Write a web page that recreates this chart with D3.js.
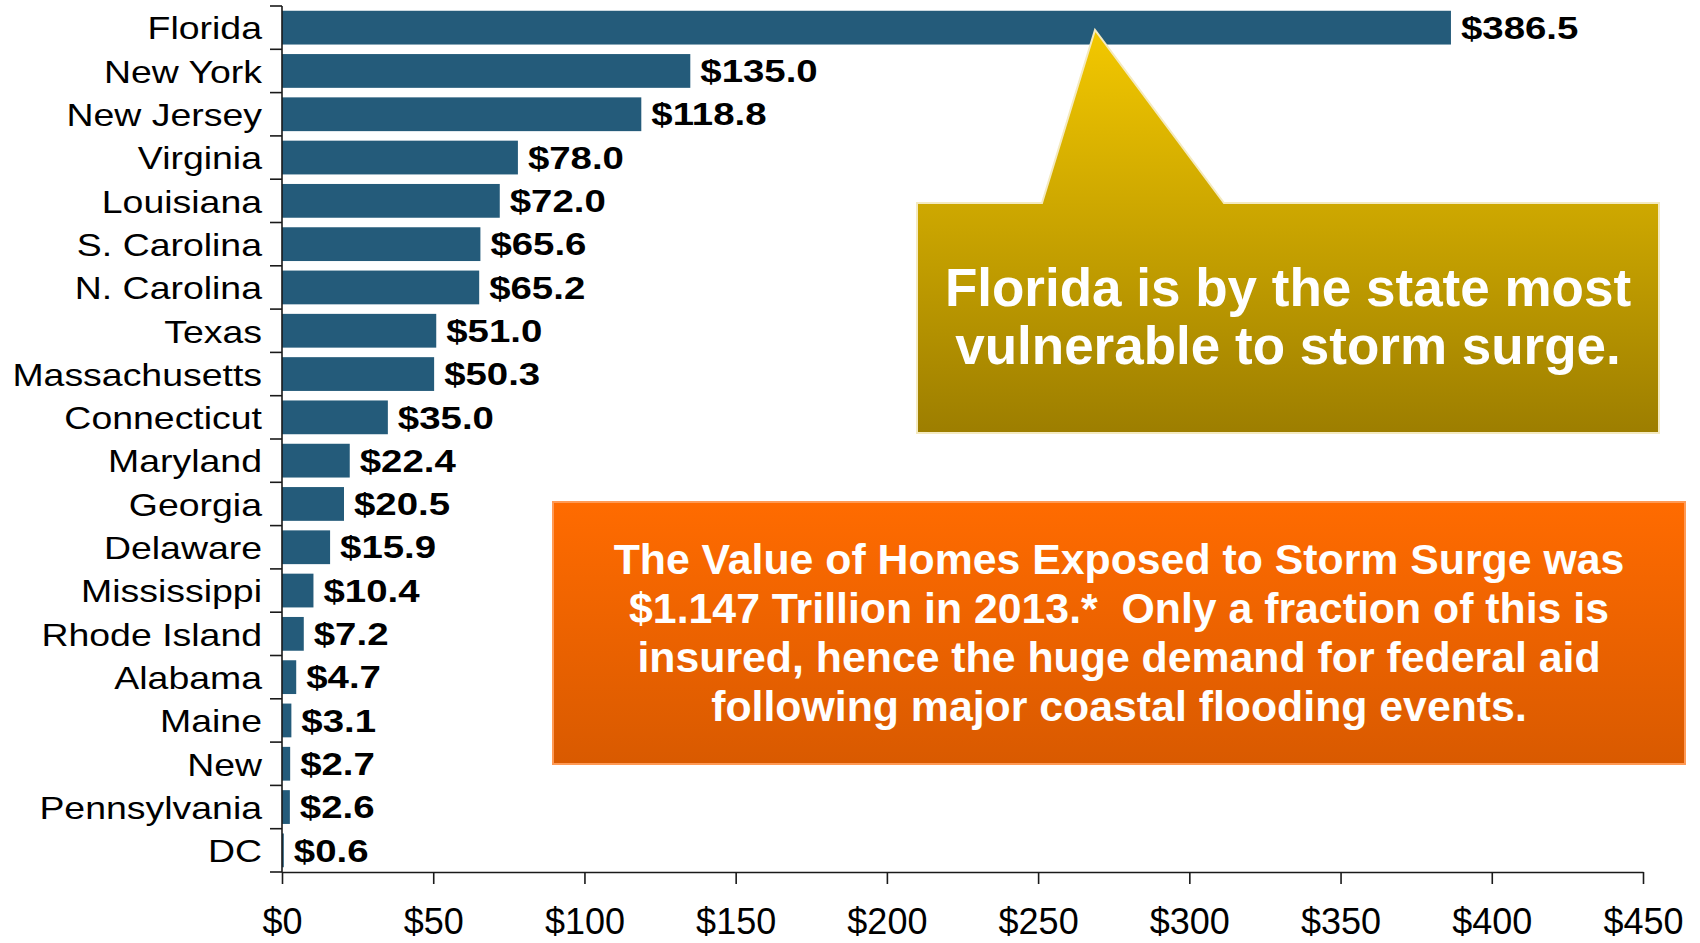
<!DOCTYPE html>
<html>
<head>
<meta charset="utf-8">
<script src="https://cdn.jsdelivr.net/npm/d3@7"></script>
<style>
  body { margin: 0; background: #fff; }
  text { font-family: "Liberation Sans", Arial, sans-serif; }
</style>
</head>
<body>
<div id="container"></div>
<script>

let states = ["Florida", "New York", "New Jersey", "Virginia", "Louisiana", "S. Carolina",
  "N. Carolina", "Texas", "Massachusetts", "Connecticut", "Maryland", "Georgia", "Delaware",
  "Mississippi", "Rhode Island", "Alabama", "Maine", "New", "Pennsylvania", "DC"];
let homeValues = [386.5, 135.0, 118.8, 78.0, 72.0, 65.6, 65.2, 51.0, 50.3, 35.0,
  22.4, 20.5, 15.9, 10.4, 7.2, 4.7, 3.1, 2.7, 2.6, 0.6];
let xTicks = [0, 50, 100, 150, 200, 250, 300, 350, 400, 450];

let goldLines = ["Florida is by the state most", "vulnerable to storm surge."];
let orangeLines = [
  "The Value of Homes Exposed to Storm Surge was",
  "$1.147 Trillion in 2013.*  Only a fraction of this is",
  "insured, hence the huge demand for federal aid",
  "following major coastal flooding events."
];

let data = states.map(function(d, i){
  return {"state": d, "value": homeValues[i]};
});

let w = 1700;
let h = 943;
// the chart text in the original is drawn a bit wider than it is tall
let labelStretch = 1.17;
let valueStretch = 1.2;

let viz = d3.select("#container")
  .append("svg")
    .attr("width", w)
    .attr("height", h)
;

let xScale = d3.scaleLinear().domain([0, 450]).range([282, 1643]);
let yScale = d3.scaleBand()
    .domain(states)
    .range([6, 872])
    .paddingInner(0.22)
    .paddingOuter(0.11)
;

let defs = viz.append("defs");
let gold = defs.append("linearGradient")
    .attr("id", "goldGrad")
    .attr("gradientUnits", "userSpaceOnUse")
    .attr("x1", 0).attr("y1", 30).attr("x2", 0).attr("y2", 433)
;
gold.append("stop").attr("offset", "0%").attr("stop-color", "#f3c800");
gold.append("stop").attr("offset", "100%").attr("stop-color", "#9d7e00");

let orange = defs.append("linearGradient")
    .attr("id", "orangeGrad")
    .attr("x1", 0).attr("y1", 0).attr("x2", 0).attr("y2", 1)
;
orange.append("stop").attr("offset", "0%").attr("stop-color", "#ff6b00");
orange.append("stop").attr("offset", "100%").attr("stop-color", "#d95a00");

// bars
let barGroup = viz.append("g").attr("class", "bars");
barGroup.selectAll("rect").data(data).enter()
  .append("rect")
    .attr("x", xScale(0))
    .attr("y", function(d){ return yScale(d.state) })
    .attr("width", function(d){ return xScale(d.value) - xScale(0) })
    .attr("height", yScale.bandwidth())
    .attr("fill", "#245b7a")
;

// value labels
barGroup.selectAll(".valuelabel").data(data).enter()
  .append("text")
    .attr("class", "valuelabel")
    .attr("transform", "scale(" + valueStretch + ",1)")
    .attr("x", function(d){ return (xScale(d.value) + 10) / valueStretch })
    .attr("y", function(d){ return yScale(d.state) + yScale.bandwidth() / 2 })
    .attr("dy", "0.35em")
    .attr("font-size", "32px")
    .attr("font-weight", "bold")
    .attr("fill", "#000")
    .text(function(d){ return "$" + d3.format(".1f")(d.value) })
;

// y axis: labels from the band scale, tick marks between the bands
let yAxis = d3.axisLeft(yScale).tickSize(0).tickPadding(0);
let yAxisGroup = viz.append("g")
    .attr("class", "yaxisgroup")
    .attr("transform", "translate(" + xScale(0) + ",0)")
;
yAxisGroup.call(yAxis);
yAxisGroup.select(".domain").remove();
yAxisGroup.selectAll("text")
    .attr("transform", "scale(" + labelStretch + ",1)")
    .attr("x", -20 / labelStretch)
    .attr("dy", "0.37em")
    .attr("font-size", "32px")
    .attr("font-family", null)
    .attr("fill", "#000")
;

let step = yScale.step();
let bounds = states.map(function(d){ return yScale(d) - step * yScale.paddingOuter() });
bounds.push(yScale.range()[1]);
let axisLines = viz.append("g").attr("stroke", "#1a1a1a").attr("stroke-width", 1.6);
axisLines.selectAll("line").data(bounds).enter()
  .append("line")
    .attr("x1", xScale(0) - 12)
    .attr("x2", xScale(0))
    .attr("y1", function(d){ return d })
    .attr("y2", function(d){ return d })
;
axisLines.append("line")
    .attr("x1", xScale(0)).attr("x2", xScale(0))
    .attr("y1", yScale.range()[0]).attr("y2", yScale.range()[1])
;

// x axis
let xAxis = d3.axisBottom(xScale)
    .tickValues(xTicks)
    .tickSize(12)
    .tickSizeOuter(0)
    .tickFormat(function(d){ return "$" + d })
;
let xAxisGroup = viz.append("g")
    .attr("class", "xaxisgroup")
    .attr("transform", "translate(0," + yScale.range()[1] + ")")
;
xAxisGroup.call(xAxis);
xAxisGroup.select(".domain").attr("stroke", "#1a1a1a").attr("stroke-width", 1.6);
xAxisGroup.selectAll(".tick line").attr("stroke", "#1a1a1a").attr("stroke-width", 1.6);
xAxisGroup.selectAll("text")
    .attr("y", 62)
    .attr("dy", 0)
    .attr("font-size", "36px")
    .attr("font-family", null)
    .attr("fill", "#000")
;

// gold callout pointing at the Florida bar
let gx0 = 917, gx1 = 1659, gy0 = 203, gy1 = 433;
let callout = "M" + gx0 + "," + gy0 + " L1042," + gy0 + " L1095,30 L1224," + gy0 +
  " L" + gx1 + "," + gy0 + " L" + gx1 + "," + gy1 + " L" + gx0 + "," + gy1 + " Z";
viz.append("path")
    .attr("d", callout)
    .attr("fill", "url(#goldGrad)")
    .attr("stroke", "#f4eac0")
    .attr("stroke-width", 2)
;
viz.append("g").selectAll("text").data(goldLines).enter()
  .append("text")
    .attr("x", (gx0 + gx1) / 2)
    .attr("y", function(d, i){ return 306 + i * 58 })
    .attr("text-anchor", "middle")
    .attr("font-size", "53px")
    .attr("font-weight", "bold")
    .attr("fill", "#fff")
    .text(function(d){ return d })
;

// orange note
let ox0 = 553, ox1 = 1685, oy0 = 502, oy1 = 764;
viz.append("rect")
    .attr("x", ox0).attr("y", oy0)
    .attr("width", ox1 - ox0).attr("height", oy1 - oy0)
    .attr("fill", "url(#orangeGrad)")
    .attr("stroke", "#ff9a55")
    .attr("stroke-width", 2)
;
viz.append("g").selectAll("text").data(orangeLines).enter()
  .append("text")
    .attr("x", (ox0 + ox1) / 2)
    .attr("y", function(d, i){ return 574 + i * 49 })
    .attr("text-anchor", "middle")
    .attr("font-size", "42.8px")
    .attr("font-weight", "bold")
    .attr("fill", "#fff")
    .style("white-space", "pre")
    .text(function(d){ return d })
;

</script>
</body>
</html>
